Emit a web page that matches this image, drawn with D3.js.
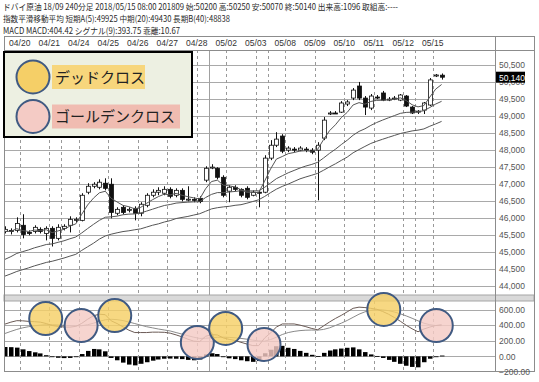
<!DOCTYPE html>
<html>
<head>
<meta charset="utf-8">
<script src="https://cdn.jsdelivr.net/npm/d3@7"></script>
<style>
  body { margin: 0; background: #fff; }
  svg { display: block; font-family: 'Liberation Sans', Arial, sans-serif; }
</style>
</head>
<body>
<div id="chart"></div>
<script>
// header texts
const headerLines = [
  'ドバイ原油 18/09 240分足 2018/05/15 08:00 201809 始:50200 高:50250 安:50070 終:50140 出来高:1096 取組高:----',
  '指数平滑移動平均 短期A(5):49925 中期(20):49430 長期B(40):48838',
  'MACD MACD:404.42 シグナル(9):393.75 乖離:10.67',
];

// date labels and the bar boundary where each day starts
const dates = ['04/20', '04/21', '04/24', '04/25', '04/26', '04/27', '04/28', '05/02', '05/03', '05/08', '05/09', '05/10', '05/11', '05/12', '05/15'];
const dateBars = [2.5, 7.5, 12.5, 17.5, 22.5, 27.5, 32.5, 37.5, 42.5, 47.5, 52.5, 57.5, 62.5, 67.5, 72.5];
// vertical grid (bar boundaries), the month change is drawn solid
const gridBars = [2.5, 7.5, 9.5, 12.5, 17.5, 22.5, 27.5, 32.5, 34.5, 37.5, 42.5, 44.5, 47.5, 52.5, 57.5, 62.5, 67.5, 69.5, 72.5];
const monthBar = 34.5;

// 240 min candles
const opens = [45595, 45625, 45625, 45775, 45565, 45595, 45655, 45535, 45685, 45390,
  45685, 45775, 45920, 45920, 46750, 46925, 46895, 47015, 46985, 46130,
  46305, 46215, 46275, 46130, 46365, 46660, 46750, 46720, 46835, 46660,
  46805, 46540, 46540, 46570, 47105, 47485, 47455, 47190, 46780, 46895,
  46835, 46865, 46660, 46750, 46750, 47755, 48135, 48405, 47990, 48020,
  47990, 48020, 47990, 47990, 48345, 49055, 49085, 49110, 49350, 49525,
  49880, 49525, 49230, 49555, 49675, 49465, 49495, 49465, 49585, 49260,
  49110, 49170, 49320, 50175, 50200];
const highs = [45745, 45685, 46010, 46100, 45625, 45775, 45715, 45745, 45745, 45805,
  45805, 46040, 46010, 46720, 47015, 47045, 47130, 47160, 47160, 46305,
  46365, 46305, 46335, 46455, 46720, 46835, 46895, 46925, 46895, 46865,
  46865, 46925, 46600, 46630, 47515, 47575, 47485, 47250, 46955, 46955,
  46865, 46925, 46805, 46805, 47840, 48285, 48520, 48460, 48105, 48080,
  48105, 48080, 48050, 48225, 48965, 49140, 49140, 49435, 49465, 49820,
  50000, 49585, 49645, 49615, 49735, 49555, 49585, 49645, 49615, 49290,
  49170, 49410, 50115, 50235, 50250];
const lows = [45535, 45505, 45565, 45390, 45480, 45535, 45535, 45330, 45150, 45330,
  45625, 45565, 45860, 45890, 46690, 46865, 46835, 46805, 45980, 46070,
  46100, 46155, 45920, 46040, 46305, 46600, 46660, 46660, 46570, 46600,
  46480, 46480, 46455, 46425, 47045, 47430, 47130, 46600, 46455, 46780,
  46600, 46540, 46630, 46305, 46720, 47695, 48080, 47900, 47930, 47930,
  47960, 47930, 47870, 46510, 48285, 49025, 49055, 49085, 49290, 49465,
  49465, 49025, 49170, 49495, 49435, 49435, 49465, 49435, 49260, 49055,
  49055, 49055, 49290, 50145, 50070];
const closes = [45655, 45595, 45830, 45505, 45535, 45715, 45595, 45685, 45390, 45715,
  45745, 45950, 45950, 46660, 46925, 46985, 47045, 46865, 46155, 46245,
  46155, 46245, 46130, 46395, 46660, 46750, 46805, 46835, 46630, 46805,
  46540, 46545, 46510, 46480, 47455, 47490, 47190, 46660, 46895, 46835,
  46660, 46600, 46750, 46720, 47755, 48135, 48315, 47960, 48050, 47990,
  48050, 47990, 47930, 48135, 48875, 49085, 49080, 49380, 49410, 49760,
  49525, 49260, 49585, 49525, 49465, 49495, 49525, 49615, 49290, 49085,
  49140, 49380, 50060, 50205, 50140];

// exponential moving averages
const emaShort = [45596, 45596, 45675, 45619, 45593, 45634, 45622, 45643, 45557, 45610,
  45655, 45752, 45817, 46098, 46373, 46577, 46733, 46778, 46571, 46462,
  46361, 46323, 46258, 46302, 46423, 46529, 46621, 46692, 46671, 46716,
  46660, 46618, 46583, 46550, 46852, 47064, 47106, 46958, 46937, 46905,
  46822, 46748, 46748, 46739, 47076, 47431, 47726, 47803, 47886, 47921,
  47963, 47972, 47957, 48016, 48303, 48563, 48737, 48950, 49103, 49322,
  49390, 49346, 49425, 49458, 49461, 49473, 49490, 49532, 49452, 49328,
  49266, 49304, 49555, 49790, 49925];
const emaMid = [44771, 44851, 44946, 44999, 45049, 45111, 45158, 45209, 45226, 45274,
  45318, 45377, 45430, 45548, 45678, 45803, 45921, 46012, 46024, 46045,
  46086, 46104, 46110, 46139, 46193, 46249, 46305, 46358, 46388, 46429,
  46444, 46456, 46465, 46468, 46594, 46686, 46739, 46736, 46757, 46772,
  46795, 46786, 46789, 46792, 46893, 47020, 47150, 47236, 47322, 47392,
  47463, 47522, 47570, 47632, 47759, 47895, 48016, 48155, 48282, 48430,
  48542, 48619, 48719, 48805, 48876, 48944, 49009, 49074, 49103, 49109,
  49121, 49153, 49248, 49349, 49430];
const emaLong = [44278, 44343, 44414, 44467, 44520, 44579, 44629, 44680, 44715, 44762,
  44810, 44866, 44919, 45034, 45141, 45247, 45368, 45460, 45513, 45554,
  45590, 45613, 45643, 45670, 45723, 45776, 45817, 45871, 45912, 45974,
  46006, 46036, 46077, 46116, 46187, 46258, 46293, 46317, 46334, 46364,
  46382, 46426, 46476, 46527, 46624, 46736, 46840, 46922, 46990, 47067,
  47144, 47200, 47251, 47307, 47398, 47496, 47587, 47688, 47785, 47912,
  48007, 48099, 48187, 48252, 48311, 48368, 48424, 48480, 48518, 48557,
  48580, 48616, 48695, 48763, 48838];

// MACD panel
const macd = [413, 438, 457, 455, 448, 444, 438, 420, 395, 384,
  376, 374, 384, 422, 475, 520, 540, 533, 455, 420,
  378, 335, 305, 305, 305, 310, 310, 308, 297, 275,
  250, 220, 195, 190, 257, 278, 274, 236, 218, 203,
  180, 158, 138, 138, 235, 300, 375, 415, 415, 415,
  400, 380, 357, 341, 390, 440, 485, 525, 570, 615,
  630, 625, 615, 603, 575, 540, 498, 450, 398, 353,
  315, 350, 375, 395, 404.42];
const signal = [293, 320, 345, 365, 380, 392, 400, 405, 405, 402,
  398, 394, 392, 392, 405, 425, 450, 468, 475, 470,
  458, 440, 420, 400, 380, 365, 350, 338, 325, 305,
  285, 265, 245, 230, 232, 238, 244, 246, 243, 238,
  230, 220, 208, 198, 195, 215, 245, 280, 305, 320,
  330, 335, 337, 336, 345, 365, 395, 425, 460, 500,
  540, 570, 590, 598, 595, 585, 568, 545, 518, 488,
  455, 425, 405, 395, 393.75];
const hist = [120, 118, 112, 90, 68, 52, 38, 15, -10, -18,
  -22, -20, -8, 30, 70, 95, 90, 65, -20, -50,
  -80, -105, -115, -95, -75, -55, -40, -30, -28, -30,
  -35, -45, -50, -40, 25, 40, 30, -10, -25, -35,
  -50, -62, -70, -60, 40, 85, 130, 135, 110, 95,
  70, 45, 20, 5, 45, 75, 90, 100, 110, 115,
  90, 55, 25, 5, -20, -45, -70, -95, -120, -135,
  -140, -75, -30, 0, 10.67];

// cross markers (bar position, MACD value, kind)
const crossBars = [6.9, 12.9, 18.6, 32.6, 37.4, 43.9, 64.2, 73.1];
const crossValues = [484, 395, 522, 178, 357, 153, 600, 395];
const crossKinds = ['dead', 'golden', 'dead', 'golden', 'dead', 'golden', 'dead', 'golden'];

const priceTicks = d3.range(44000, 50501, 500);
const macdTicks = [600, 400, 200, 0, -200];
const lastPrice = 50140;

const legendItems = [
  { kind: 'dead', label: 'デッドクロス' },
  { kind: 'golden', label: 'ゴールデンクロス' },
];

let width = 539;
let height = 382;
let frame = { left: 4, right: 534, axis: 495, top: 36, dateBottom: 50, mainBottom: 295, macdTop: 301, bottom: 371 };
let colors = {
  dead: '#f5cf67',
  golden: '#f4cbc5',
  deadLabel: '#f7d67c',
  goldenLabel: '#f0bcb1',
  ring: '#405a82',
};

let svg = d3.select('#chart').append('svg').attr('width', width).attr('height', height);

let x = d3.scaleLinear().domain([0, 74]).range([5, 441.6]);
let yMain = d3.scaleLinear().domain([44000, 50500]).range([285.5, 65]);
let yMacd = d3.scaleLinear().domain([-200, 600]).range([372, 309.5]);
let xDate = d3.scalePoint().domain(dates).range([x(dateBars[0]), x(dateBars[dateBars.length - 1])]);

let defs = svg.append('defs');
defs.append('clipPath').attr('id', 'clip-main')
  .append('rect').attr('x', frame.left).attr('y', frame.dateBottom)
  .attr('width', frame.axis - frame.left).attr('height', frame.mainBottom - frame.dateBottom);
defs.append('clipPath').attr('id', 'clip-macd')
  .append('rect').attr('x', frame.left).attr('y', frame.macdTop)
  .attr('width', frame.axis - frame.left).attr('height', frame.bottom - frame.macdTop);

//header
svg.append('g').selectAll('text')
  .data(headerLines)
  .enter()
  .append('text')
  .attr('x', 3)
  .attr('y', (d, i) => 10 + i * 11.8)
  .attr('textLength', (d, i) => [395, 227, 177][i])
  .attr('lengthAdjust', 'spacingAndGlyphs')
  .style('font-family', "'Noto Sans CJK JP', sans-serif")
  .style('font-size', '8.5px')
  .style('fill', '#2a2a2a')
  .text((d) => d);

//grid main
let main = svg.append('g').attr('clip-path', 'url(#clip-main)');
main.append('g').selectAll('line')
  .data(priceTicks)
  .enter()
  .append('line')
  .attr('x1', frame.left).attr('x2', frame.axis)
  .attr('y1', (d) => Math.round(yMain(d)) + 0.5).attr('y2', (d) => Math.round(yMain(d)) + 0.5)
  .style('stroke', '#a9a9a9');
main.append('g').selectAll('line')
  .data(gridBars)
  .enter()
  .append('line')
  .attr('x1', (d) => Math.round(x(d)) + 0.5).attr('x2', (d) => Math.round(x(d)) + 0.5)
  .attr('y1', frame.dateBottom).attr('y2', frame.mainBottom)
  .style('stroke', (d) => (d === monthBar ? '#a0a0a0' : '#999'))
  .style('stroke-dasharray', (d) => (d === monthBar ? null : '3,3'));

//candles
let bars = d3.range(opens.length);
let candles = main.append('g').selectAll('g').data(bars).enter().append('g');
candles.append('line')
  .attr('x1', (i) => Math.round(x(i)) + 0.5).attr('x2', (i) => Math.round(x(i)) + 0.5)
  .attr('y1', (i) => yMain(highs[i])).attr('y2', (i) => yMain(lows[i]))
  .style('stroke', '#111');
candles.append('rect')
  .attr('x', (i) => Math.round(x(i)) - 1.5)
  .attr('width', 4)
  .attr('y', (i) => yMain(Math.max(opens[i], closes[i])))
  .attr('height', (i) => Math.max(1, Math.abs(yMain(opens[i]) - yMain(closes[i]))))
  .style('fill', (i) => (closes[i] >= opens[i] ? '#fff' : '#111'))
  .style('stroke', '#111')
  .style('stroke-width', 0.8);

//moving averages
let line = (arr, scale) => d3.line().x((d, i) => x(i)).y((d) => scale(d))(arr);
[emaShort, emaMid, emaLong].forEach((arr) => {
  main.append('path')
    .attr('d', line(arr, yMain))
    .style('fill', 'none')
    .style('stroke', '#555')
    .style('stroke-width', 1);
});

//separator between panels
svg.append('rect')
  .attr('x', frame.left).attr('y', frame.mainBottom)
  .attr('width', frame.right - frame.left).attr('height', frame.macdTop - frame.mainBottom)
  .style('fill', '#d9d9d9')
  .style('stroke', '#a5a5a5');

//macd panel
let sub = svg.append('g').attr('clip-path', 'url(#clip-macd)');
sub.append('g').selectAll('line')
  .data(macdTicks)
  .enter()
  .append('line')
  .attr('x1', frame.left).attr('x2', frame.axis)
  .attr('y1', (d) => Math.round(yMacd(d)) + 0.5).attr('y2', (d) => Math.round(yMacd(d)) + 0.5)
  .style('stroke', '#a9a9a9');
sub.append('g').selectAll('line')
  .data(gridBars)
  .enter()
  .append('line')
  .attr('x1', (d) => Math.round(x(d)) + 0.5).attr('x2', (d) => Math.round(x(d)) + 0.5)
  .attr('y1', frame.macdTop).attr('y2', frame.bottom)
  .style('stroke', (d) => (d === monthBar ? '#a0a0a0' : '#999'))
  .style('stroke-dasharray', (d) => (d === monthBar ? null : '3,3'));

sub.append('g').selectAll('rect')
  .data(bars)
  .enter()
  .append('rect')
  .attr('x', (i) => Math.round(x(i)) - 2)
  .attr('width', 4.5)
  .attr('y', (i) => Math.min(yMacd(0), yMacd(hist[i])))
  .attr('height', (i) => Math.max(0.8, Math.abs(yMacd(hist[i]) - yMacd(0))))
  .style('fill', '#000');

sub.append('path').attr('d', line(signal, yMacd))
  .style('fill', 'none').style('stroke', '#8a8a8a').style('stroke-width', 1);
sub.append('path').attr('d', line(macd, yMacd))
  .style('fill', 'none').style('stroke', '#6a5a55').style('stroke-width', 1);

//cross circles
svg.append('g').selectAll('circle')
  .data(crossBars)
  .enter()
  .append('circle')
  .attr('cx', (d) => x(d))
  .attr('cy', (d, i) => yMacd(crossValues[i]))
  .attr('r', 16.5)
  .style('fill', (d, i) => colors[crossKinds[i]])
  .style('fill-opacity', 0.82)
  .style('stroke', colors.ring)
  .style('stroke-width', 2);

//frame
let border = svg.append('g').style('stroke', '#8c8c8c').style('fill', 'none');
border.append('rect')
  .attr('x', frame.left + 0.5).attr('y', frame.top + 0.5)
  .attr('width', frame.right - frame.left).attr('height', frame.bottom - frame.top);
border.append('line')
  .attr('x1', frame.left).attr('x2', frame.right)
  .attr('y1', frame.dateBottom + 0.5).attr('y2', frame.dateBottom + 0.5);
border.append('line')
  .attr('x1', frame.axis + 0.5).attr('x2', frame.axis + 0.5)
  .attr('y1', frame.top).attr('y2', frame.bottom);

//date labels
svg.append('g').selectAll('text')
  .data(dates)
  .enter()
  .append('text')
  .attr('x', (d) => xDate(d))
  .attr('y', 46)
  .attr('text-anchor', 'middle')
  .style('font-size', '8.5px')
  .style('fill', '#333')
  .text((d) => d);

//price axis (50,000 sits half under the last price box, as in the source)
let priceAxis = svg.append('g')
  .attr('transform', `translate(${frame.axis}, 0)`)
  .call(d3.axisRight(yMain).tickValues(priceTicks).tickSize(0).tickPadding(4).tickFormat(d3.format(',')));
priceAxis.select('.domain').remove();
priceAxis.selectAll('text').style('font-size', '8.5px').style('fill', '#555').style('font-family', "'Liberation Sans', Arial, sans-serif");

//last price box
let lastBox = svg.append('g').attr('transform', `translate(${frame.axis + 1}, ${yMain(lastPrice)})`);
lastBox.append('rect').attr('x', 0).attr('y', -5.5).attr('width', 29).attr('height', 11).style('fill', '#000');
lastBox.append('text').attr('x', 3).attr('y', 3.5)
  .style('font-size', '8.5px').style('fill', '#fff').text(d3.format(',')(lastPrice));

//macd axis
let macdAxis = svg.append('g')
  .attr('transform', `translate(${frame.axis}, 0)`)
  .call(d3.axisRight(yMacd).tickValues(macdTicks).tickSize(0).tickPadding(4).tickFormat(d3.format('.2f')));
macdAxis.select('.domain').remove();
macdAxis.selectAll('text').style('font-size', '8.5px').style('fill', '#555').style('font-family', "'Liberation Sans', Arial, sans-serif");
svg.append('rect').attr('x', frame.axis + 1).attr('y', 363).attr('width', 38).attr('height', 6).style('fill', '#fff');

//legend
let legend = svg.append('g');
legend.append('rect')
  .attr('x', 4).attr('y', 52).attr('width', 188).attr('height', 85)
  .style('fill', '#edf0e2').style('stroke', '#000').style('stroke-width', 2);
let items = legend.selectAll('g.item')
  .data(legendItems)
  .enter()
  .append('g')
  .attr('class', 'item')
  .attr('transform', (d, i) => `translate(0, ${77 + i * 39.5})`);
items.append('rect')
  .attr('x', 52).attr('y', -12)
  .attr('width', (d) => (d.kind === 'dead' ? 93 : 128)).attr('height', 24)
  .style('fill', (d) => colors[d.kind + 'Label']);
items.append('circle')
  .attr('cx', 33).attr('cy', 0).attr('r', 16.5)
  .style('fill', (d) => colors[d.kind])
  .style('stroke', colors.ring).style('stroke-width', 2);
items.append('text')
  .attr('x', 55).attr('y', 5.5)
  .style('font-family', "'Noto Sans CJK JP', sans-serif")
  .style('font-size', '15px')
  .style('fill', '#222')
  .text((d) => d.label);
</script>
</body>
</html>
